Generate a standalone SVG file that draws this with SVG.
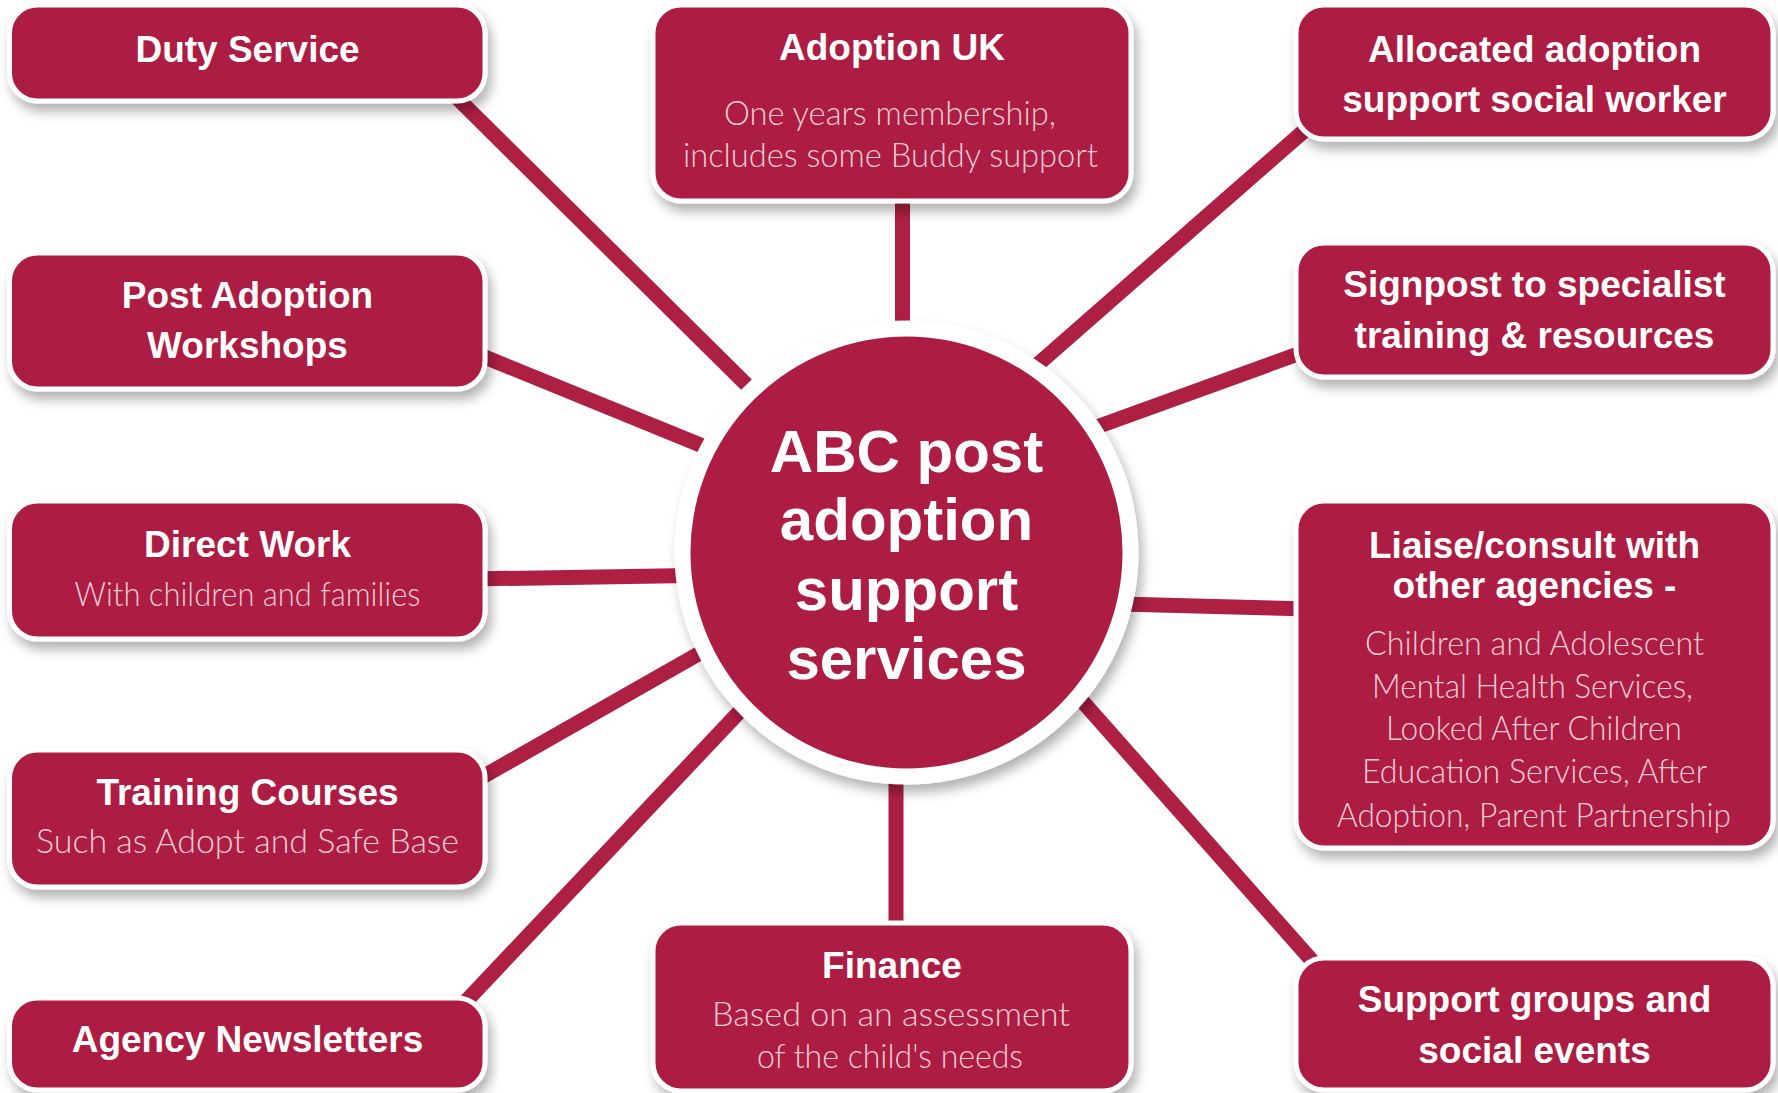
<svg xmlns="http://www.w3.org/2000/svg" width="1778" height="1093" viewBox="0 0 1778 1093">
<defs>
<filter id="sh" x="-10%" y="-20%" width="125%" height="150%">
<feDropShadow dx="4" dy="8" stdDeviation="6" flood-color="#000" flood-opacity="0.3"/>
</filter>
<style>
.box{fill:#ad1f43;stroke:#fff;stroke-width:5;filter:url(#sh)}
.hub{fill:#ad1f43;stroke:#fff;stroke-width:16;filter:url(#sh)}
.t{font-family:"Liberation Sans",Arial,sans-serif;font-weight:700;font-size:37px;fill:#fff;text-anchor:middle}
.c{font-size:60px}
.s{font-family:Lato,"Liberation Sans",sans-serif;font-weight:300;font-size:34px;fill:#f3cdd6;text-anchor:middle}
.ln{stroke:#ad1f43;stroke-width:15;fill:none}
</style>
</defs>
<rect width="1778" height="1093" fill="#fff"/>
<g id="connectors">
<line class="ln" x1="440" y1="81" x2="770" y2="408"/>
<line class="ln" x1="470" y1="351" x2="720" y2="453"/>
<line class="ln" x1="470" y1="579" x2="720" y2="575"/>
<line class="ln" x1="470" y1="784" x2="730" y2="636"/>
<line class="ln" x1="455" y1="1013" x2="760" y2="690"/>
<line class="ln" x1="896" y1="760" x2="896" y2="940"/>
<line class="ln" x1="1060" y1="676" x2="1330" y2="981"/>
<line class="ln" x1="1120" y1="604" x2="1310" y2="609"/>
<line class="ln" x1="1080" y1="433" x2="1320" y2="346"/>
<line class="ln" x1="1020" y1="380" x2="1320" y2="117"/>
<line class="ln" x1="902.5" y1="190" x2="902.5" y2="345"/>
</g>
<g id="hub">
<circle class="hub" cx="906.5" cy="552.5" r="224"/>
<text class="t c" x="906.5" y="472">ABC post</text>
<text class="t c" x="906.5" y="540">adoption</text>
<text class="t c" x="906.5" y="610">support</text>
<text class="t c" x="906.5" y="679">services</text>
</g>
<g id="duty">
<rect class="box" x="9.5" y="5" width="475.5" height="96" rx="28"/>
<text class="t" x="247.5" y="62">Duty Service</text>
</g>
<g id="workshops">
<rect class="box" x="9.5" y="253" width="475.5" height="136" rx="28"/>
<text class="t" x="247.5" y="308">Post Adoption</text>
<text class="t" x="247.5" y="358">Workshops</text>
</g>
<g id="direct">
<rect class="box" x="9.5" y="501" width="475.5" height="138" rx="28"/>
<text class="t" x="247.5" y="557">Direct Work</text>
<text class="s" x="247.5" y="606" textLength="346" lengthAdjust="spacingAndGlyphs">With children and families</text>
</g>
<g id="training">
<rect class="box" x="9.5" y="750" width="475.5" height="137" rx="28"/>
<text class="t" x="247.5" y="805">Training Courses</text>
<text class="s" x="247.5" y="853" textLength="423" lengthAdjust="spacingAndGlyphs">Such as Adopt and Safe Base</text>
</g>
<g id="newsletters">
<rect class="box" x="9.5" y="998" width="475.5" height="92" rx="28"/>
<text class="t" x="247.5" y="1052">Agency Newsletters</text>
</g>
<g id="adoptionuk">
<rect class="box" x="653" y="5" width="478" height="196" rx="28"/>
<text class="t" x="892" y="60">Adoption UK</text>
<text class="s" x="890" y="125" textLength="332" lengthAdjust="spacingAndGlyphs">One years membership,</text>
<text class="s" x="890.5" y="167" textLength="415" lengthAdjust="spacingAndGlyphs">includes some Buddy support</text>
</g>
<g id="finance">
<rect class="box" x="653" y="923" width="478" height="168" rx="28"/>
<text class="t" x="892" y="978">Finance</text>
<text class="s" x="891" y="1026" textLength="358" lengthAdjust="spacingAndGlyphs">Based on an assessment</text>
<text class="s" x="890" y="1068" textLength="266" lengthAdjust="spacingAndGlyphs">of the child's needs</text>
</g>
<g id="allocated">
<rect class="box" x="1296" y="5" width="477" height="134" rx="28"/>
<text class="t" x="1534.5" y="62">Allocated adoption</text>
<text class="t" x="1534.5" y="112">support social worker</text>
</g>
<g id="signpost">
<rect class="box" x="1296" y="243" width="477" height="134" rx="28"/>
<text class="t" x="1534.5" y="297">Signpost to specialist</text>
<text class="t" x="1534.5" y="348">training &amp; resources</text>
</g>
<g id="liaise">
<rect class="box" x="1296" y="501" width="477" height="347" rx="28"/>
<text class="t" x="1534.5" y="558">Liaise/consult with</text>
<text class="t" x="1534.5" y="598">other agencies -</text>
<text class="s" x="1534.5" y="655" textLength="339" lengthAdjust="spacingAndGlyphs">Children and Adolescent</text>
<text class="s" x="1532.5" y="698" textLength="321" lengthAdjust="spacingAndGlyphs">Mental Health Services,</text>
<text class="s" x="1534" y="740" textLength="296" lengthAdjust="spacingAndGlyphs">Looked After Children</text>
<text class="s" x="1534.5" y="783" textLength="345" lengthAdjust="spacingAndGlyphs">Education Services, After</text>
<text class="s" x="1534" y="827" textLength="394" lengthAdjust="spacingAndGlyphs">Adoption, Parent Partnership</text>
</g>
<g id="support">
<rect class="box" x="1296" y="958" width="477" height="132" rx="28"/>
<text class="t" x="1534.5" y="1012">Support groups and</text>
<text class="t" x="1534.5" y="1063">social events</text>
</g>
</svg>
